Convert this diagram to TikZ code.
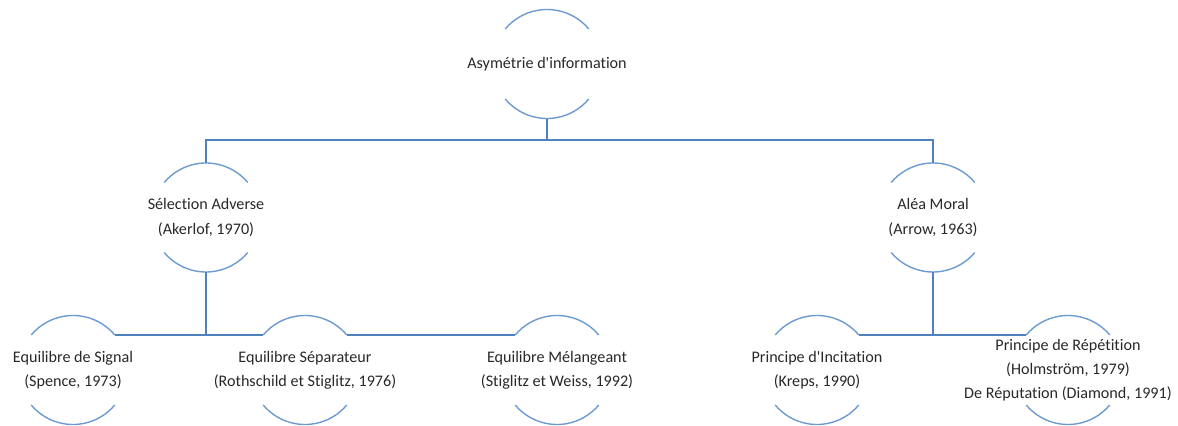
\documentclass[tikz,border=0pt]{standalone}
\usepackage{fontspec}
\setmainfont{Carlito}[Ligatures={TeXOff,CommonOff,ContextualOff}]
\definecolor{connc}{RGB}{79,129,189}
\definecolor{arcc}{RGB}{108,155,210}
\definecolor{txtc}{RGB}{40,40,40}
\tikzset{
  circ/.style={circle,minimum size=109bp,inner sep=0pt,outer sep=0pt},
  txt/.style={align=center,font=\fontsize{16.2}{24.3}\selectfont,text=txtc,inner sep=0pt},
  conn/.style={draw=connc,line width=1.4bp},
  arcst/.style={draw=arcc,line width=1.4bp}
}
\newcommand\twoarcs[1]{%
  \draw[arcst] (#1.40) arc[start angle=40,end angle=140,radius=54.5bp];
  \draw[arcst] (#1.220) arc[start angle=220,end angle=320,radius=54.5bp];}
\begin{document}
\begin{tikzpicture}[x=1bp,y=1bp]
\useasboundingbox (0,0) rectangle (1178,425);
% nodes
\node[circ] (top) at (547,361) {};
\node[circ] (sel) at (206,207.5) {};
\node[circ] (alea) at (933,207.5) {};
\node[circ] (sig) at (73,55) {};
\node[circ] (sep) at (305,55) {};
\node[circ] (mel) at (557,55) {};
\node[circ] (inc) at (817,55) {};
\node[circ] (rep) at (1068,55) {};
% texts
\node[txt] (top-t) at (top) {Asymétrie d'information};
\node[txt] (sel-t) at (sel) {Sélection Adverse\\(Akerlof, 1970)};
\node[txt] (alea-t) at (alea) {Aléa Moral\\(Arrow, 1963)};
\node[txt] (sig-t) at (sig) {Equilibre de Signal\\(Spence, 1973)};
\node[txt] (sep-t) at (sep) {Equilibre Séparateur\\(Rothschild et Stiglitz, 1976)};
\node[txt] (mel-t) at (mel) {Equilibre Mélangeant\\(Stiglitz et Weiss, 1992)};
\node[txt] (inc-t) at (inc) {Principe d'Incitation\\(Kreps, 1990)};
\node[txt] (rep-t) at (rep) {Principe de Répétition\\(Holmström, 1979)\\De Réputation (Diamond, 1991)};
% arcs
\twoarcs{top}
\twoarcs{sel}
\twoarcs{alea}
\twoarcs{sig}
\twoarcs{sep}
\twoarcs{mel}
\twoarcs{inc}
\twoarcs{rep}
% connectors
\draw[conn] (top.south) -- ++(0,-21.5) -| (sel.north);
\draw[conn] (top.south) -- ++(0,-21.5) -| (alea.north);
\draw[conn] (sel.south) -- (sel.south |- sig.40);
\draw[conn] (sig.40) -- (sep.140);
\draw[conn] (sep.40) -- (mel.140);
\draw[conn] (alea.south) -- (alea.south |- inc.40);
\draw[conn] (inc.40) -- (rep.140);
\end{tikzpicture}
\end{document}
